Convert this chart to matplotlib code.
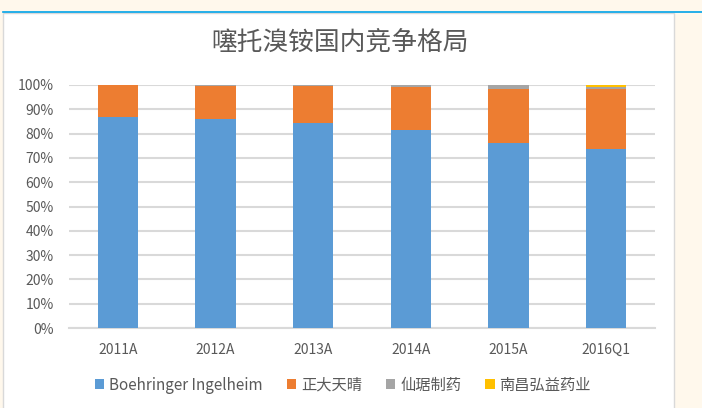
import matplotlib.pyplot as plt
from matplotlib.patches import Rectangle
from matplotlib.ticker import PercentFormatter
import numpy as np

plt.rcParams['font.family'] = ['Noto Sans CJK SC', 'DejaVu Sans']

categories = ["2011A", "2012A", "2013A", "2014A", "2015A", "2016Q1"]
boehringer = [87.0, 86.2, 84.4, 81.4, 76.3, 73.5]
zhengda = [12.9, 13.4, 15.2, 17.8, 22.0, 24.8]
xianju = [0.1, 0.4, 0.4, 0.8, 1.5, 1.0]
nanchang = [0.0, 0.0, 0.0, 0.0, 0.2, 0.7]
series_names = ["Boehringer Ingelheim", "正大天晴", "仙琚制药", "南昌弘益药业"]
colors = ["#5B9BD5", "#ED7D31", "#A5A5A5", "#FFC000"]

fig = plt.figure(figsize=(7.02, 4.08), dpi=100)
fig.patch.set_facecolor("#FFF8EC")
# white chart panel with blue top line
fig.patches.append(Rectangle((3 / 702, -0.01), 671 / 702, 1.01 - 13 / 408, transform=fig.transFigure,
                             facecolor="white", edgecolor="#D9D9D9", lw=1, zorder=-10))
fig.lines.append(plt.Line2D([3 / 702, 1], [1 - 12 / 408, 1 - 12 / 408], transform=fig.transFigure,
                            color="#00A2E8", lw=1.2, zorder=-5))

ax = fig.add_axes([69 / 702, 1 - 328 / 408, 586 / 702, 243 / 408])
ax.set_facecolor("white")

x = np.arange(len(categories))
bottom = np.zeros(len(categories))
for vals, name, c in zip([boehringer, zhengda, xianju, nanchang], series_names, colors):
    ax.bar(x, vals, 0.41, bottom=bottom, color=c, label=name, zorder=3)
    bottom += np.array(vals)

ax.set_xlim(-0.5, len(categories) - 0.5)
ax.set_ylim(0, 100)
ax.set_yticks(np.arange(0, 101, 10))
ax.yaxis.set_major_formatter(PercentFormatter(decimals=0))
ax.set_xticks(x)
ax.set_xticklabels(categories)
ax.grid(axis="y", color="#D9D9D9", lw=1.5, zorder=0)
for s in ["top", "right", "left"]:
    ax.spines[s].set_visible(False)
ax.spines["bottom"].set_color("#D9D9D9")
ax.spines["bottom"].set_linewidth(1.5)
ax.tick_params(axis="both", length=0, colors="#595959", labelsize=10)
ax.tick_params(axis="x", pad=11)
ax.tick_params(axis="y", pad=11)

fig.text(340 / 702, 1 - 43 / 408, "噻托溴铵国内竞争格局", ha="center", va="center",
         fontsize=18.5, color="#595959")

fig.legend(loc="center", bbox_to_anchor=(343 / 702, 1 - 385 / 408), ncol=4, frameon=False,
           fontsize=11, handlelength=0.6, handleheight=0.6, handletextpad=0.3, columnspacing=1.6,
           labelcolor="#595959")

fig.savefig("out.png", dpi=100, facecolor=fig.get_facecolor())
